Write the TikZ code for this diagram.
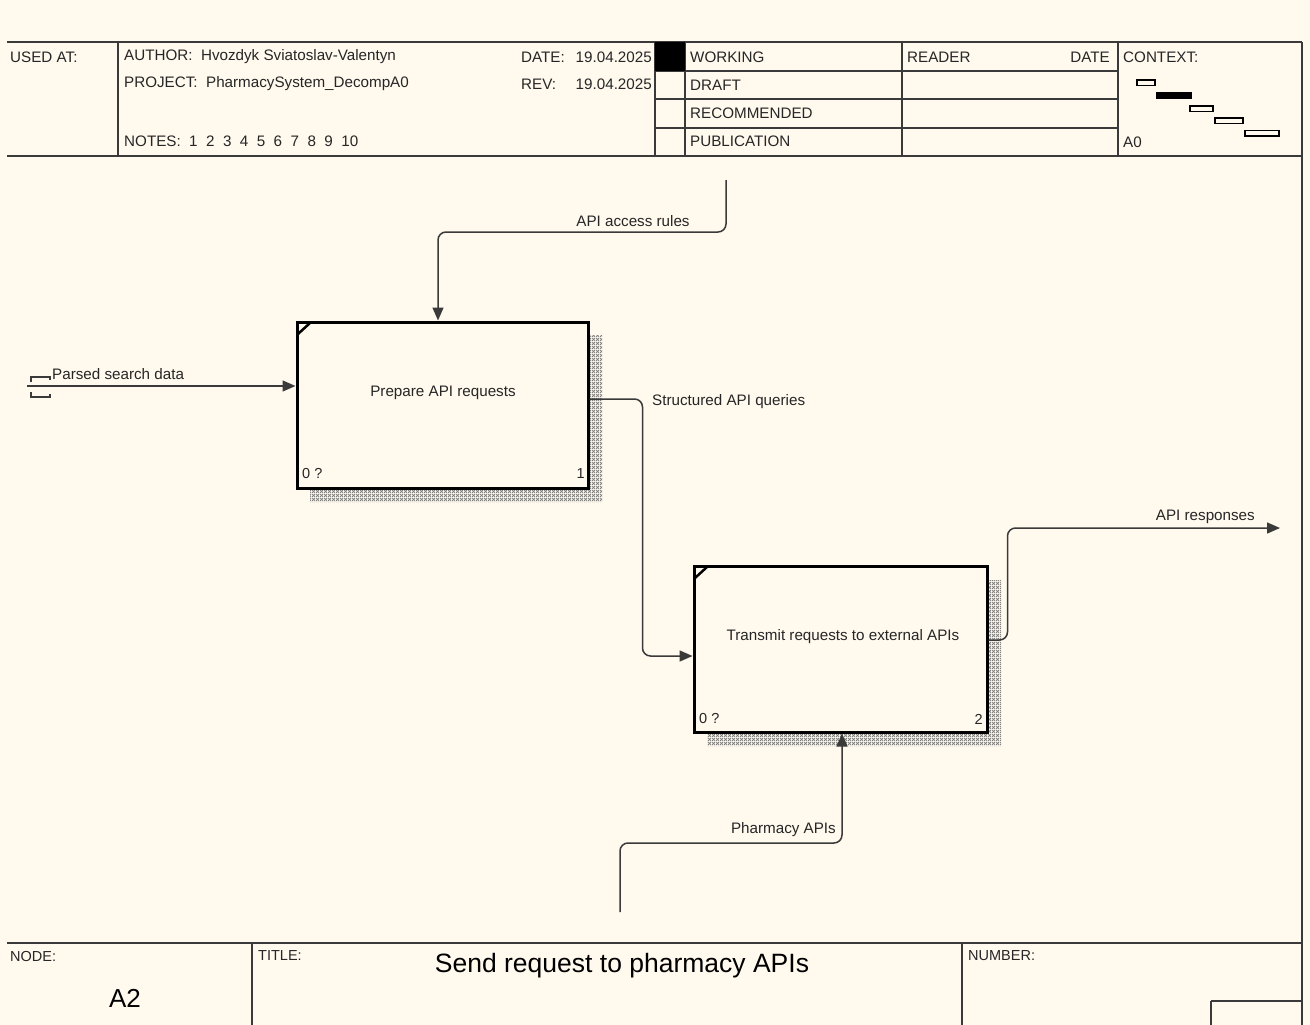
\documentclass[tikz,border=0pt]{standalone}
\usepackage{fontspec}
\setmainfont{Liberation Sans}
\usetikzlibrary{arrows.meta,patterns}
\definecolor{paper}{HTML}{FFF9EE}
\definecolor{ink}{HTML}{262626}
\definecolor{rule}{HTML}{3A3A3A}

% diagonal cross-hatch used for the box shadows
\pgfdeclarepatternformonly{xhatch}{\pgfpointorigin}{\pgfpoint{4pt}{4pt}}{\pgfpoint{4pt}{4pt}}{%
  \pgfsetlinewidth{0.9pt}%
  \pgfpathmoveto{\pgfpoint{0pt}{0pt}}\pgfpathlineto{\pgfpoint{4pt}{4pt}}%
  \pgfpathmoveto{\pgfpoint{0pt}{4pt}}\pgfpathlineto{\pgfpoint{4pt}{0pt}}%
  \pgfusepath{stroke}}

\begin{document}
\begin{tikzpicture}[x=1pt,y=-1pt,
  txt/.style={font=\fontsize{15.2}{18}\selectfont, text=ink, inner sep=0pt},
  small/.style={font=\fontsize{14.5}{17}\selectfont, text=ink, inner sep=0pt},
  frame/.style={draw=rule, line width=1.6pt},
  fnbox/.style={draw=black, line width=3pt, fill=paper, inner sep=0pt},
  shade/.style={pattern=xhatch, pattern color=black!50},
  flow/.style={draw=rule, line width=1.5pt, rounded corners=8pt},
  tip/.style={-{Triangle[length=13pt,width=11pt]}},
  ctx/.style={draw=black, line width=1.2pt}]

% sheet
\fill[paper] (0,0) rectangle (1310,1025);
\useasboundingbox (0,0) rectangle (1310,1025);

% ---------- header block ----------
\draw[frame] (7,42) -- (1302,42);
\draw[frame] (7,156) -- (1302,156);
\draw[frame] (118,42) -- (118,156);
\draw[frame] (655,42) -- (655,156);
\draw[frame] (685,42) -- (685,156);
\draw[frame] (902,42) -- (902,156);
\draw[frame] (1118,42) -- (1118,156);
\draw[frame] (1302,42) -- (1302,1025);
\foreach \yy in {71,99,128} \draw[frame] (655,\yy) -- (1118,\yy);
\fill[black] (655,42) rectangle (685,71);

\node[txt, anchor=west] (usedat) at (10,57) {USED AT:};
\node[txt, anchor=west] (author) at (124,57) {AUTHOR:\ \ Hvozdyk Sviatoslav-Valentyn};
\node[txt, anchor=west] (project) at (124,84) {PROJECT:\ \ PharmacySystem\_DecompA0};
\node[txt, anchor=west] (notes) at (124,141) {NOTES:\ \ 1\ \ 2\ \ 3\ \ 4\ \ 5\ \ 6\ \ 7\ \ 8\ \ 9\ \ 10};
\node[txt, anchor=west] (date) at (521,57) {DATE:};
\node[txt, anchor=east] (datev) at (652,57) {19.04.2025};
\node[txt, anchor=west] (rev) at (521,84) {REV:};
\node[txt, anchor=east] (revv) at (652,84) {19.04.2025};
\node[txt, anchor=west] (working) at (690,57) {WORKING};
\node[txt, anchor=west] (draft) at (690,85) {DRAFT};
\node[txt, anchor=west] (recom) at (690,113) {RECOMMENDED};
\node[txt, anchor=west] (publ) at (690,141) {PUBLICATION};
\node[txt, anchor=west] (reader) at (907,57) {READER};
\node[txt, anchor=east] (rdate) at (1110,57) {DATE};
\node[txt, anchor=west] (context) at (1123,57) {CONTEXT:};
\node[txt, anchor=west] (ctxnode) at (1123,142) {A0};

% context miniature
\draw[ctx] (1137,80) rectangle (1155,85.5);
\filldraw[ctx, fill=black] (1157,93) rectangle (1191,98.5);
\draw[ctx] (1190,106) rectangle (1213,111.5);
\draw[ctx] (1215,118) rectangle (1243,123.5);
\draw[ctx] (1245,130.5) rectangle (1279,136);

% ---------- footer block ----------
\draw[frame] (7,943) -- (1302,943);
\draw[frame] (252,943) -- (252,1025);
\draw[frame] (962,943) -- (962,1025);
\draw[frame] (1211,1001) -- (1302,1001);
\draw[frame] (1211,1001) -- (1211,1025);
\node[small, anchor=west] (nodelbl) at (10,956) {NODE:};
\node[txt, font=\fontsize{26}{30}\selectfont, text=black] (nodeid) at (125,998) {A2};
\node[small, anchor=west] (titlelbl) at (258,956) {TITLE:};
\node[txt, font=\fontsize{26.5}{30}\selectfont, text=black] (title) at (622,966) {Send request to pharmacy APIs};
\node[small, anchor=west] (numlbl) at (968,956) {NUMBER:};

% ---------- activity boxes ----------
\fill[shade] (588,335) -- (602,335) -- (602,502) -- (310,502) -- (310,488) -- (588,488) -- cycle;
\fill[shade] (987,580) -- (1001,580) -- (1001,746) -- (707,746) -- (707,732) -- (987,732) -- cycle;

\node[fnbox, minimum width=291pt, minimum height=166pt] (b1) at (442.5,405) {};
\node[fnbox, minimum width=293pt, minimum height=166pt] (b2) at (840.5,649) {};
\draw[black, line width=2.5pt] (298,334) -- (310,323);
\draw[black, line width=2.5pt] (695,578) -- (707,567);

\node[txt] (b1t) at (443,393) {Prepare API requests};
\node[small, anchor=west] (b1c) at (302,474) {0 ?};
\node[small, anchor=east] (b1n) at (585,474) {1};
\node[txt] (b2t) at (843,637) {Transmit requests to external APIs};
\node[small, anchor=west] (b2c) at (699,719) {0 ?};
\node[small, anchor=east] (b2n) at (983,719) {2};

% ---------- arrows ----------
% input, entering through a tunnel
\coordinate (inL) at (27,386);
\draw[flow, tip] (inL) -- (inL -| b1.west);
\draw[draw=rule, line width=1.5pt] (31,382) -- (31,377) -- (50,377) -- (50,380);
\draw[draw=rule, line width=1.5pt] (31,392) -- (31,397) -- (50,397) -- (50,394);
\node[txt, anchor=west] (lin) at (52,374) {Parsed search data};

% control
\coordinate (ctlTop) at (726,180);
\draw[flow, tip] (ctlTop) -- ++(0,52) -| ([xshift=-4.5pt]b1.north);
\node[txt] (lctl) at (633,221) {API access rules};

% box 1 output to box 2 input
\draw[flow, tip] ([yshift=6pt]b1.east) -| ([xshift=-50pt,yshift=-7pt]b2.west) -- ([yshift=-7pt]b2.west);
\node[txt, anchor=west] (lmid) at (652,402) {Structured API queries};

% output
\coordinate (outR) at (1280,528);
\draw[flow, tip] ([yshift=9pt]b2.east) -- ++(19,0) |- (outR);
\node[txt, anchor=east] (lout) at (1255,517) {API responses};

% mechanism
\coordinate (mechBot) at (620,912);
\draw[flow, tip] (mechBot) -- ++(0,-69) -| ([xshift=1.5pt]b2.south);
\node[txt, anchor=east] (lmech) at (836,830) {Pharmacy APIs};

\end{tikzpicture}
\end{document}
